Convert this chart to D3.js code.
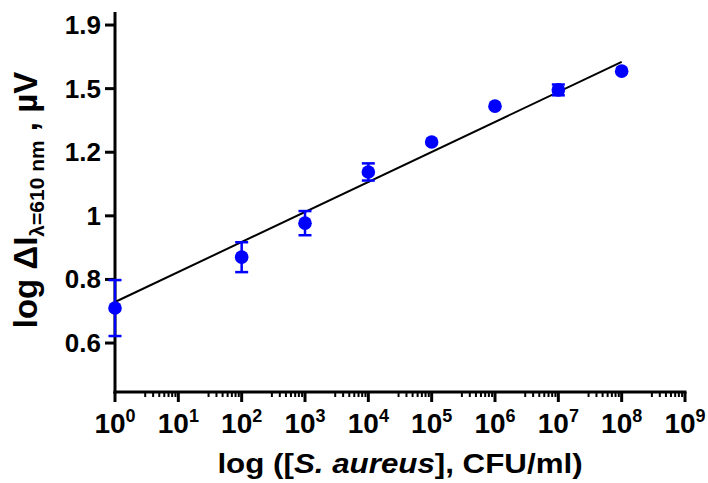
<!DOCTYPE html>
<meta charset="utf-8">
<head>
	<title>S. aureus calibration</title>
	<script src="https://d3js.org/d3.v7.min.js"></script>
	<style>
		body { margin: 0; background: #fff; }
		text { font-family: "Liberation Sans", Arial, sans-serif; font-weight: bold; fill: #000; }
	</style>
</head>
<body>
<script>

	// data
	const xExp = [0, 2, 3, 4, 5, 6, 7, 8];            // log10 CFU/ml
	const yMean = [0.710, 0.870, 0.977, 1.138, 1.232, 1.345, 1.396, 1.455];
	const ySd = [0.088, 0.047, 0.038, 0.027, 0, 0, 0.017, 0];

	// fitted line
	const fitIntercept = 0.729;
	const fitSlope = 0.0944;
	const fitRange = [0, 8];

	// axis ticks
	const xTicks = [0, 1, 2, 3, 4, 5, 6, 7, 8, 9];
	const yTicks = [0.6, 0.8, 1.0, 1.2, 1.4, 1.6];
	const yTickLabels = ['0.6', '0.8', '1', '1.2', '1.5', '1.9'];

	const width = 708;
	const height = 483;

	var svg = d3.select('body')
		.append('svg')
		.attr('width', width)
		.attr('height', height);

	var x = d3.scaleLinear().domain([0, 9]).range([115, 685]);
	var y = d3.scaleLinear().domain([0.446, 1.641]).range([392, 12]);

	// y axis
	var yAxis = svg.append('g');
	yAxis.append('line')
		.attr('x1', x(0)).attr('x2', x(0))
		.attr('y1', y.range()[0] + 1.5).attr('y2', y.range()[1])
		.attr('stroke', '#000').attr('stroke-width', 3);
	yAxis.selectAll('.ytick')
		.data(yTicks)
		.enter().append('line')
			.attr('x1', x(0) - 10).attr('x2', x(0))
			.attr('y1', d => y(d)).attr('y2', d => y(d))
			.attr('stroke', '#000').attr('stroke-width', 3);
	yAxis.selectAll('.ylab')
		.data(yTicks)
		.enter().append('text')
			.attr('x', 101)
			.attr('y', d => y(d) + 9)
			.attr('text-anchor', 'end')
			.style('font-size', '26px')
			.text((d, i) => yTickLabels[i]);

	// x axis
	var xAxis = svg.append('g');
	xAxis.append('line')
		.attr('x1', x(0) - 1.5).attr('x2', x(9) + 1.5)
		.attr('y1', y.range()[0]).attr('y2', y.range()[0])
		.attr('stroke', '#000').attr('stroke-width', 3);
	xAxis.selectAll('.xtick')
		.data(xTicks)
		.enter().append('line')
			.attr('x1', d => x(d)).attr('x2', d => x(d))
			.attr('y1', y.range()[0]).attr('y2', y.range()[0] + 10)
			.attr('stroke', '#000').attr('stroke-width', 3);

	var minor = [];
	xTicks.slice(0, -1).forEach(d => {
		for (var m = 3; m <= 9; m++) minor.push(d + Math.log10(m));
	});
	xAxis.selectAll('.minor')
		.data(minor)
		.enter().append('line')
			.attr('x1', d => x(d)).attr('x2', d => x(d))
			.attr('y1', y.range()[0]).attr('y2', y.range()[0] + 5)
			.attr('stroke', '#000').attr('stroke-width', 2);

	var xl = xAxis.selectAll('.xlab')
		.data(xTicks)
		.enter().append('text')
			.attr('x', d => x(d))
			.attr('y', 433)
			.attr('text-anchor', 'middle')
			.style('font-size', '28px');
	xl.append('tspan').text('10');
	xl.append('tspan')
		.attr('dy', -11)
		.style('font-size', '18px')
		.text(d => d);

	// axis titles
	var xt = svg.append('text')
		.attr('transform', 'translate(400,473) scale(1.16,1)')
		.attr('text-anchor', 'middle')
		.style('font-size', '27px');
	xt.append('tspan').text('log ([');
	xt.append('tspan').style('font-style', 'italic').text('S. aureus');
	xt.append('tspan').text('], CFU/ml)');

	var yt = svg.append('text')
		.attr('transform', 'translate(37,200) rotate(-90)')
		.attr('text-anchor', 'middle')
		.style('font-size', '33px');
	yt.append('tspan').text('log \u0394I');
	yt.append('tspan').attr('dy', 7).style('font-size', '21px').text('\u03bb=610 nm');
	yt.append('tspan').attr('dy', -7).text(' , \u00b5V');

	// regression line
	svg.append('line')
		.attr('x1', x(fitRange[0]))
		.attr('y1', y(fitIntercept + fitSlope * fitRange[0]))
		.attr('x2', x(fitRange[1]))
		.attr('y2', y(fitIntercept + fitSlope * fitRange[1]))
		.attr('stroke', '#000')
		.attr('stroke-width', 2);

	// error bars
	var pts = xExp.map((d, i) => ({x: d, y: yMean[i], sd: ySd[i]}));
	var eb = svg.append('g')
		.selectAll('g')
		.data(pts.filter(d => d.sd > 0))
		.enter().append('g')
			.attr('stroke', '#0000ff')
			.attr('stroke-width', 2.5);
	eb.append('line')
		.attr('x1', d => x(d.x)).attr('x2', d => x(d.x))
		.attr('y1', d => y(d.y - d.sd)).attr('y2', d => y(d.y + d.sd));
	eb.append('line')
		.attr('x1', d => x(d.x) - 6.5).attr('x2', d => x(d.x) + 6.5)
		.attr('y1', d => y(d.y - d.sd)).attr('y2', d => y(d.y - d.sd));
	eb.append('line')
		.attr('x1', d => x(d.x) - 6.5).attr('x2', d => x(d.x) + 6.5)
		.attr('y1', d => y(d.y + d.sd)).attr('y2', d => y(d.y + d.sd));

	// points
	svg.append('g')
		.selectAll('circle')
		.data(pts)
		.enter().append('circle')
			.attr('cx', d => x(d.x))
			.attr('cy', d => y(d.y))
			.attr('r', 6.8)
			.attr('fill', '#0000ff');

</script>
</body>
</html>
